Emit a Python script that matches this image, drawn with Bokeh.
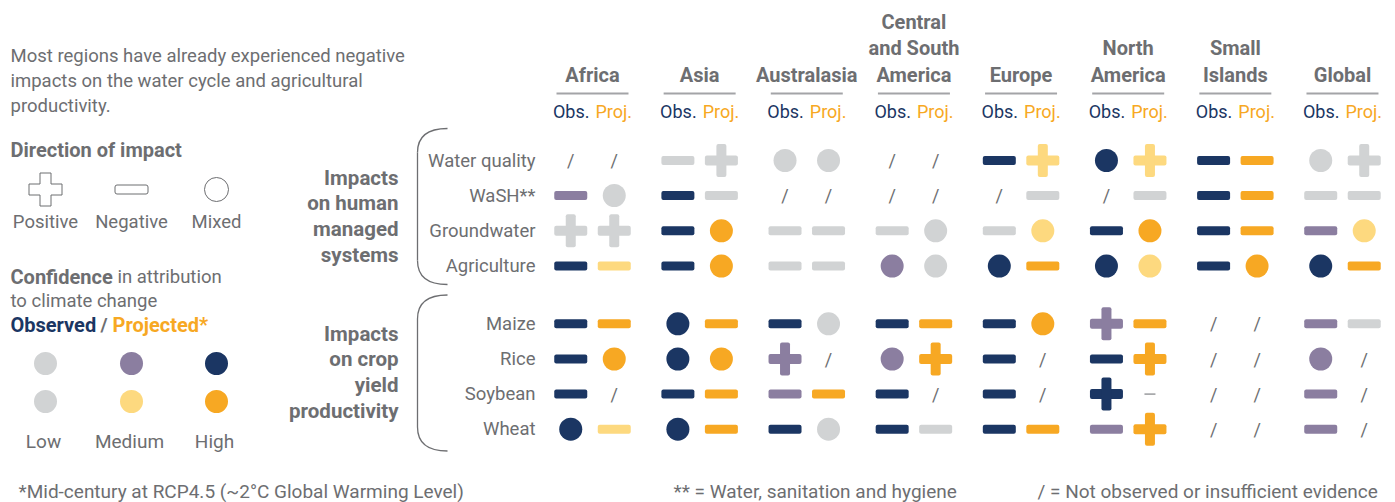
from bokeh.plotting import figure
from bokeh.models import Range1d
from bokeh.embed import file_html
from bokeh.resources import INLINE
from bokeh.core.properties import value

# ---------------- data ----------------
regions = ["Africa", "Asia", "Australasia", "Central\nand South\nAmerica", "Europe",
           "North\nAmerica", "Small\nIslands", "Global"]
human_rows = ["Water quality", "WaSH**", "Groundwater", "Agriculture"]
crop_rows = ["Maize", "Rice", "Soybean", "Wheat"]
group_labels = ["Impacts\non human\nmanaged\nsystems", "Impacts\non crop\nyield\nproductivity"]

# codes: shape (d=dash/negative, p=plus/positive, c=circle/mixed) + confidence (1 low, 2 medium, 3 high)
# "/" = not observed or insufficient evidence, "-" = small dash
# row order: Water quality, WaSH, Groundwater, Agriculture, Maize, Rice, Soybean, Wheat
africa_obs = ["/", "d2", "p1", "d3", "d3", "d3", "d3", "c3"]
africa_proj = ["/", "c1", "p1", "d2", "d3", "c3", "/", "d2"]
asia_obs = ["d1", "d3", "d3", "d3", "c3", "c3", "d3", "c3"]
asia_proj = ["p1", "d1", "c3", "c3", "d3", "c3", "d3", "d3"]
australasia_obs = ["c1", "/", "d1", "d1", "d3", "p2", "d2", "d3"]
australasia_proj = ["c1", "/", "d1", "d1", "c1", "/", "d3", "c1"]
csa_obs = ["/", "/", "d1", "c2", "d3", "c2", "d3", "d3"]
csa_proj = ["/", "/", "c1", "c1", "d3", "p3", "/", "d1"]
europe_obs = ["d3", "/", "d1", "c3", "d3", "d3", "d3", "d3"]
europe_proj = ["p2", "d1", "c2", "d3", "c3", "/", "/", "d3"]
namerica_obs = ["c3", "/", "d3", "c3", "p2", "d3", "p3", "d2"]
namerica_proj = ["p2", "d1", "c3", "c2", "d3", "p3", "-", "p3"]
islands_obs = ["d3", "d3", "d3", "d3", "/", "/", "/", "/"]
islands_proj = ["d3", "d3", "d3", "c3", "/", "/", "/", "/"]
global_obs = ["c1", "d1", "d2", "c3", "d2", "c2", "d2", "d2"]
global_proj = ["p1", "d1", "c2", "d3", "d1", "/", "/", "/"]

obs_cells = [africa_obs, asia_obs, australasia_obs, csa_obs, europe_obs,
             namerica_obs, islands_obs, global_obs]
proj_cells = [africa_proj, asia_proj, australasia_proj, csa_proj, europe_proj,
              namerica_proj, islands_proj, global_proj]

confidence_labels = ["Low", "Medium", "High"]
direction_labels = ["Positive", "Negative", "Mixed"]

# ---------------- style ----------------
GRAY = "#6d6e71"
LINE = "#a3a4a7"
NAVY = "#1b3663"
ORANGE = "#f7a823"
obs_colors = {"1": "#d1d3d4", "2": "#8b7ea0", "3": NAVY}
proj_colors = {"1": "#d1d3d4", "2": "#fdd97f", "3": ORANGE}
FONT = "Roboto"

W, H = 1395, 502
p = figure(width=W, height=H, x_range=Range1d(0, W), y_range=Range1d(H, 0),
           output_backend="svg", toolbar_location=None, min_border=0,
           x_axis_type=None, y_axis_type=None)
p.grid.visible = False
p.outline_line_color = None
p.background_fill_color = "white"
p.border_fill_color = "white"


def txt(x, y, s, size=18.5, color=GRAY, bold=False, align="left"):
    p.text(x=[x], y=[y], text=[s], text_font=value(FONT), text_font_size=f"{size}px",
           text_color=color, text_font_style="bold" if bold else "normal",
           text_align=align, text_baseline="middle")


# layout
X0, DX, OFF = 592.0, 107.14, 21.75
ROW_Y = [160.0, 195.0, 230.3, 265.6, 323.3, 358.5, 393.6, 428.7]
DW, DH = 33.0, 9.0       # dash size
PW, PT = 33.0, 10.0      # plus size / thickness
CR = 11.5                # circle radius


def draw_symbol(x, y, code, colors):
    if code == "/":
        txt(x, y, "/", size=18, color=GRAY, align="center")
        return
    if code == "-":
        p.segment(x0=[x - 5.5], x1=[x + 5.5], y0=[y], y1=[y], line_color="#9a9b9e", line_width=1.5)
        return
    shape, lvl = code[0], code[1]
    col = colors[lvl]
    if shape == "d":
        p.quad(left=[x - DW / 2], right=[x + DW / 2], top=[y - DH / 2], bottom=[y + DH / 2],
               fill_color=col, line_color=None, border_radius=2)
    elif shape == "p":
        p.quad(left=[x - PW / 2, x - PT / 2], right=[x + PW / 2, x + PT / 2],
               top=[y - PT / 2, y - PW / 2], bottom=[y + PT / 2, y + PW / 2],
               fill_color=col, line_color=None, border_radius=2)
    elif shape == "c":
        p.circle(x=[x], y=[y], radius=CR, fill_color=col, line_color=None)


# headers
for i, name in enumerate(regions):
    cx = X0 + DX * i
    lines = name.split("\n")
    for j, ln in enumerate(reversed(lines)):
        txt(cx, 74 - 26.5 * j, ln, size=20, bold=True, align="center")
    p.segment(x0=[cx - 36], x1=[cx + 36], y0=[93], y1=[93], line_color=LINE, line_width=2)
    txt(cx - 3, 111, "Obs.", size=18, color=NAVY, align="right")
    txt(cx + 3, 111, "Proj.", size=18, color=ORANGE, align="left")
    for r in range(8):
        draw_symbol(cx - OFF, ROW_Y[r], obs_cells[i][r], obs_colors)
        draw_symbol(cx + OFF, ROW_Y[r], proj_cells[i][r], proj_colors)

# row labels
for r, lab in enumerate(human_rows + crop_rows):
    txt(535, ROW_Y[r], lab, size=18.5, align="right")

# group labels
for g, (lab, y0) in enumerate(zip(group_labels, [177, 333])):
    for j, ln in enumerate(lab.split("\n")):
        txt(398, y0 + 25.7 * j, ln, size=20.5, bold=True, align="right")

# braces
for top, bot in [(128, 284), (294.5, 450.5)]:
    xr, xl = 447, 417
    p.bezier(x0=[xr], y0=[top], x1=[xl], y1=[top + 24], cx0=[426], cy0=[top], cx1=[xl], cy1=[top + 9],
             line_color=GRAY, line_width=1.3)
    p.segment(x0=[xl], x1=[xl], y0=[top + 24], y1=[bot - 24], line_color=GRAY, line_width=1.3)
    p.bezier(x0=[xl], y0=[bot - 24], x1=[xr], y1=[bot], cx0=[xl], cy0=[bot - 9], cx1=[426], cy1=[bot],
             line_color=GRAY, line_width=1.3)

# left intro text
intro = ["Most regions have already experienced negative",
         "impacts on the water cycle and agricultural",
         "productivity."]
for j, ln in enumerate(intro):
    txt(10, 55 + 25 * j, ln, size=18.5)

txt(10, 149, "Direction of impact", size=20, bold=True)
LX = [45, 131, 216]
# positive outline (plus)
cx, cy, a, t = LX[0], 189, 16.5, 5.5
px = [cx - t, cx + t, cx + t, cx + a, cx + a, cx + t, cx + t, cx - t, cx - t, cx - a, cx - a, cx - t]
py = [cy - a, cy - a, cy - t, cy - t, cy + t, cy + t, cy + a, cy + a, cy + t, cy + t, cy - t, cy - t]
p.patch(px, py, fill_color="white", line_color=GRAY, line_width=1)
p.quad(left=[LX[1] - 16.5], right=[LX[1] + 16.5], top=[184.5], bottom=[193.5],
       fill_color="white", line_color=GRAY, line_width=1, border_radius=2)
p.circle(x=[LX[2]], y=[189], radius=12, fill_color="white", line_color=GRAY, line_width=1)
for k, lab in enumerate(direction_labels):
    txt(LX[k], 221, lab, size=18.5, align="center")

# confidence legend
txt(10, 276, "Confidence", size=20, bold=True)
txt(117, 276, "in attribution", size=18.5)
txt(10, 300, "to climate change", size=18.5)
txt(10, 324, "Observed", size=20, bold=True, color=NAVY)
txt(100, 324, "/", size=19, bold=True, color=GRAY)
txt(112, 324, "Projected*", size=20, bold=True, color=ORANGE)
for k, lvl in enumerate(["1", "2", "3"]):
    p.circle(x=[LX[k]], y=[363], radius=CR, fill_color=obs_colors[lvl], line_color=None)
    p.circle(x=[LX[k]], y=[401], radius=CR, fill_color=proj_colors[lvl], line_color=None)
    txt(LX[k] - 2, 441, confidence_labels[k], size=19, align="center")

# footnotes
txt(18, 491, "*Mid-century at RCP4.5 (~2°C Global Warming Level)", size=19)
txt(673, 491, "** = Water, sanitation and hygiene", size=19)
txt(1037, 491, "/ = Not observed or insufficient evidence", size=19)

open("out.html", "w").write(file_html(p, INLINE))
